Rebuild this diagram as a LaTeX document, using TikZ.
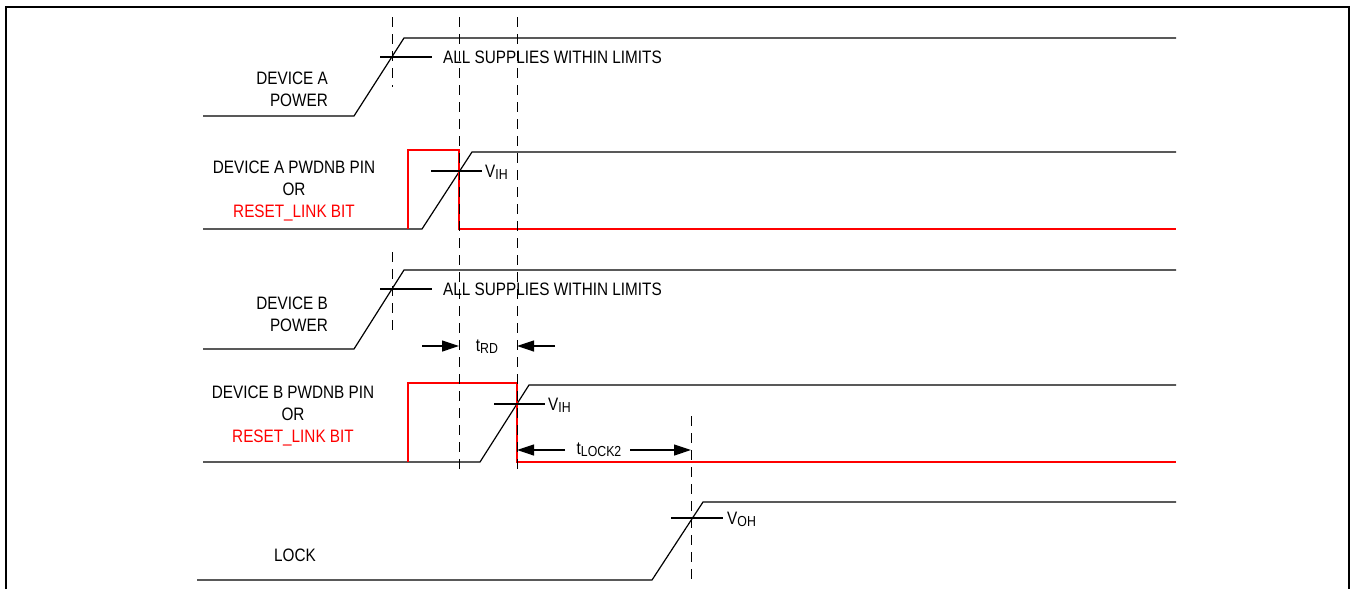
\documentclass[tikz,border=0pt]{standalone}
\usepackage{fontspec}
\setmainfont{Liberation Sans}[FakeStretch=0.85]
\usepackage{tikz}
\usetikzlibrary{arrows.meta}

\newcommand{\sigfont}{\fontsize{18}{22}\selectfont}
\newcommand{\lowtxt}[1]{\raisebox{-2pt}{\fontsize{14.5}{14.5}\selectfont #1}}

\begin{document}
\begin{tikzpicture}[x=1pt,y=-1pt,
        sig/.style={line width=1.2pt},
        rst/.style={line width=1.2pt, red},
        guide/.style={line width=1pt, dash pattern=on 10pt off 7pt},
        dimarrow/.style={line width=1.2pt, -{Triangle[length=17pt,width=11pt]}},
        lbl/.style={font=\sigfont, inner sep=0pt}]

        \useasboundingbox (0,0) rectangle (1351,589);

        % frame, open at the bottom
        \draw[line width=1.5pt] (6,589) -- (6,7) -- (1349,7) -- (1349,589);

        % device A power
        \coordinate (apLow) at (203,116);
        \coordinate (apRise) at (354,116);
        \coordinate (apHigh) at (404,38);
        \coordinate (apEnd) at (1176,38);
        \draw[sig] (apLow) -- (apRise) -- (apHigh) -- (apEnd);
        \draw[sig] (380,57) coordinate(apTickL) -- (432,57) coordinate(apTickR);
        \node[lbl, anchor=west] (apOk) at (443,57) {ALL SUPPLIES WITHIN LIMITS};
        \node[lbl, anchor=north east, align=right] (apName) at (328,71.5) {DEVICE A\\POWER};

        % device A pwdnb / reset_link
        \coordinate (aqLow) at (203,229);
        \coordinate (aqRise) at (422,229);
        \coordinate (aqHigh) at (472,152);
        \coordinate (aqEnd) at (1176,152);
        \draw[sig] (aqLow) -- (aqRise) -- (aqHigh) -- (aqEnd);
        \draw[rst] (408,229) coordinate(arUp) -- (408,150) -- (459,150) -- (459,229) -- (1176,229) coordinate(arEnd);
        \draw[sig] (431,171) coordinate(aqTickL) -- (482,171) coordinate(aqTickR);
        \node[lbl, anchor=base west] (aqVih) at (485,177.5) {V\lowtxt{IH}};
        \node[lbl, anchor=north, align=center] (aqName) at (294,160.5) {DEVICE A PWDNB PIN\\OR\\\textcolor{red}{RESET\_LINK BIT}};

        % device B power
        \coordinate (bpLow) at (203,349);
        \coordinate (bpRise) at (354,349);
        \coordinate (bpHigh) at (404,270);
        \coordinate (bpEnd) at (1176,270);
        \draw[sig] (bpLow) -- (bpRise) -- (bpHigh) -- (bpEnd);
        \draw[sig] (380,289) coordinate(bpTickL) -- (432,289) coordinate(bpTickR);
        \node[lbl, anchor=west] (bpOk) at (443,289) {ALL SUPPLIES WITHIN LIMITS};
        \node[lbl, anchor=north east, align=right] (bpName) at (328,296.5) {DEVICE B\\POWER};

        % device B pwdnb / reset_link
        \coordinate (bqLow) at (203,462);
        \coordinate (bqRise) at (480,462);
        \coordinate (bqHigh) at (529,385);
        \coordinate (bqEnd) at (1176,385);
        \draw[sig] (bqLow) -- (bqRise) -- (bqHigh) -- (bqEnd);
        \draw[rst] (408,462) coordinate(brUp) -- (408,383) -- (517,383) -- (517,462) -- (1176,462) coordinate(brEnd);
        \draw[sig] (494,404) coordinate(bqTickL) -- (545,404) coordinate(bqTickR);
        \node[lbl, anchor=base west] (bqVih) at (548,410.5) {V\lowtxt{IH}};
        \node[lbl, anchor=north, align=center] (bqName) at (293,385.5) {DEVICE B PWDNB PIN\\OR\\\textcolor{red}{RESET\_LINK BIT}};

        % lock
        \coordinate (lkLow) at (197,580);
        \coordinate (lkRise) at (652,580);
        \coordinate (lkHigh) at (703,502);
        \coordinate (lkEnd) at (1176,502);
        \draw[sig] (lkLow) -- (lkRise) -- (lkHigh) -- (lkEnd);
        \draw[sig] (671,518) coordinate(lkTickL) -- (723,518) coordinate(lkTickR);
        \node[lbl, anchor=base west] (lkVoh) at (727,524.5) {V\lowtxt{OH}};
        \node[lbl, anchor=north] (lkName) at (295,548.5) {LOCK};

        % dashed guides
        \draw[guide] (392,17) coordinate(gaTop) -- (392,87) coordinate(gaBot);
        \draw[guide] (392,252) coordinate(gbTop) -- (392,333) coordinate(gbBot);
        \draw[guide] (459,17) coordinate(gcTop) -- (459,475) coordinate(gcBot);
        \draw[guide] (517,17) coordinate(gdTop) -- (517,475) coordinate(gdBot);
        \draw[guide] (691,416) coordinate(geTop) -- (691,585) coordinate(geBot);

        % t_RD
        \node[lbl] (trd) at (487,347) {t\lowtxt{RD}};
        \draw[dimarrow] (422,346) coordinate(trdL) -- (gcTop |- trdL);
        \draw[dimarrow] (555,346) coordinate(trdR) -- (gdTop |- trdR);

        % t_LOCK2
        \node[lbl] (tlk) at (599,450) {t\lowtxt{LOCK2}};
        \draw[dimarrow] (565,450) coordinate(tlkL) -- (gdTop |- tlkL);
        \draw[dimarrow] (630,450) coordinate(tlkR) -- (geTop |- tlkR);

    \end{tikzpicture}
\end{document}
